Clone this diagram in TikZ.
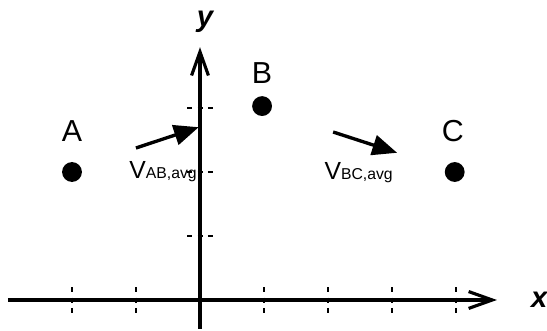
\documentclass[tikz,border=0pt]{standalone}
\usepackage{fontspec}
\setmainfont{Liberation Sans}
\usetikzlibrary{arrows.meta}

\begin{document}
\begin{tikzpicture}[
  axis/.style={line width=1.4pt, -{Straight Barb[length=10.5pt,width=7.5pt,line width=1.4pt]}},
  tickmark/.style={line width=1.1pt, dash pattern=on 2.3pt off 2.3pt},
  dot/.style={circle, fill=black, inner sep=0pt, minimum size=0.31cm},
  ptlabel/.style={font=\fontsize{13.5}{15}\selectfont, inner sep=0pt},
  axlabel/.style={font=\fontsize{13}{15}\selectfont\bfseries\itshape, inner sep=0pt, anchor=base},
  vec/.style={line width=1.5pt, -{Triangle[length=11pt,width=9pt]}},
  vlabel/.style={font=\fontsize{11}{12}\selectfont, inner sep=0pt, anchor=base west}
]
\useasboundingbox (-3.125,-0.469) rectangle (5.422,4.6875);

% Axes
\coordinate (xstart) at (-3.0,0);
\coordinate (xend) at (4.64,0);
\coordinate (ystart) at (0,-0.45);
\coordinate (yend) at (0,3.95);
\draw[axis] (xstart) -- (xend);
\draw[axis] (ystart) -- (yend);
\node[axlabel] (xlab) at (5.30,-0.12) {x};
\node[axlabel] (ylab) at (0.08,4.27) {y};

% Tick marks
\foreach \t in {-2,-1,1,2,3,4}
  \draw[tickmark] (\t,0.2) -- (\t,-0.2);
\foreach \t in {1,2,3}
  \draw[tickmark] (-0.2,\t) -- (0.2,\t);

% Points
\node[dot] (A) at (-2,2) {};
\node[dot] (B) at (0.97,3.03) {};
\node[dot] (C) at (3.98,2) {};
\node[ptlabel] (Alab) at (-2,2.64) {A};
\node[ptlabel] (Blab) at (0.97,3.55) {B};
\node[ptlabel] (Clab) at (3.95,2.64) {C};

% Average velocities
\coordinate (ABtail) at (-1,2.375);
\coordinate (ABhead) at (-0.02,2.70);
\coordinate (BCtail) at (2.08,2.625);
\coordinate (BChead) at (3.08,2.30);
\draw[vec] (ABtail) -- (ABhead);
\draw[vec] (BCtail) -- (BChead);
\node[vlabel] (vAB) at (-1.11,1.906) {V{\fontsize{7}{8}\selectfont AB,avg}};
\node[vlabel] (vBC) at (1.94,1.875) {V{\fontsize{7}{8}\selectfont BC,avg}};
\end{tikzpicture}
\end{document}
